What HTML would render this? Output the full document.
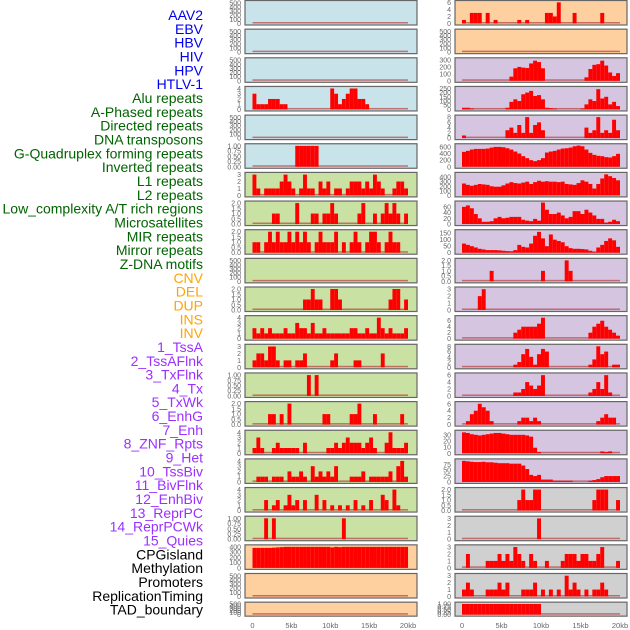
<!DOCTYPE html>
<html><head><meta charset="utf-8">
<style>
html,body{margin:0;padding:0;background:#fff;}
svg{display:block;font-family:"Liberation Sans",sans-serif;}
</style></head>
<body>
<svg id="chart" width="630" height="630" viewBox="0 0 630 630"></svg>
<script>
// ---- row labels ----
const labels = ["AAV2","EBV","HBV","HIV","HPV","HTLV-1","Alu repeats","A-Phased repeats","Directed repeats","DNA transposons","G-Quadruplex forming repeats","Inverted repeats","L1 repeats","L2 repeats","Low_complexity A/T rich regions","Microsatellites","MIR repeats","Mirror repeats","Z-DNA motifs","CNV","DEL","DUP","INS","INV","1_TssA","2_TssAFlnk","3_TxFlnk","4_Tx","5_TxWk","6_EnhG","7_Enh","8_ZNF_Rpts","9_Het","10_TssBiv","11_BivFlnk","12_EnhBiv","13_ReprPC","14_ReprPCWk","15_Quies","CPGisland","Methylation","Promoters","ReplicationTiming","TAD_boundary"];
const labelGroups = [0,0,0,0,0,0,1,1,1,1,1,1,1,1,1,1,1,1,1,2,2,2,2,2,3,3,3,3,3,3,3,3,3,3,3,3,3,3,3,4,4,4,4,4];
const groupColors = ["#0000ee","#006400","#ffa500","#9b30ff","#000000"];
const xTickVals = [0,5,10,15,20];
const xTickLabels = ["0","5kb","10kb","15kb","20kb"];

// ---- data: 40 bins of 0.5kb from 0 to 20kb ----
const Z = () => new Array(40).fill(0);
function mk(pairs){const a=Z();for(const k in pairs)a[k]=pairs[k];return a;}
// column 1
const c1_0 = Z(), c1_1 = Z(), c1_2 = Z();
const c1_3 = [3,1,1,1,2,2,2,1,1,0,0,0,0,0,0,0,0,0,0,0,4,3,1,2,3,4,4,2,2,1,0,0,0,0,0,0,0,0,0,0];
const c1_4 = Z();
const c1_5 = mk({11:1,12:1,13:1,14:1,15:1,16:1});
const c1_6 = [3,1,0,1,1,1,1,2,3,2,1,0,1,3,1,1,0,2,1,2,0,1,1,0,1,2,2,2,1,2,1,3,2,1,0,0,1,2,2,1];
const c1_7 = [0,0,0,0,0,1,1,0,0,0,0,2,0,0,0,1,1,0,1,1,2,1,0,0,0,0,0,1,2,0,0,1,0,1,2,1,2,1,0,1];
const c1_8 = [1,1,0,1,2,1,2,1,1,2,1,2,1,2,1,0,1,2,1,1,1,2,0,1,0,1,2,1,0,1,2,2,1,0,1,2,1,1,0,0];
const c1_9 = Z();
const c1_10 = mk({13:1,14:1,15:2,16:1,17:1,20:2,21:2,22:1,35:1,36:2,37:2,39:1});
const c1_11 = [2,1,2,1,2,1,1,1,2,1,1,3,2,2,1,3,1,1,2,1,1,1,1,1,1,2,2,1,1,2,1,1,4,2,1,2,1,1,1,2];
const c1_12 = mk({0:1,1:2,2:2,3:1,4:3,5:3,6:1,8:1,9:1,11:1,12:1,13:2,20:1,21:2,26:1,27:1,33:2});
const c1_13 = mk({14:1,16:1});
const c1_14 = mk({4:1,5:1,7:1,9:2,18:1,19:1,25:1,26:1,27:2,31:1,38:1});
const c1_15 = [1,3,1,0,0,1,2,1,1,1,1,1,0,2,0,0,0,0,0,1,1,2,1,2,3,2,2,2,1,2,3,1,0,0,2,4,1,1,1,2];
const c1_16 = [0,1,1,1,0,1,1,1,0,2,1,1,2,1,0,3,1,2,1,2,1,3,0,0,0,1,1,1,2,0,1,1,1,1,1,2,0,3,4,1];
const c1_17 = mk({3:2,5:1,6:2,8:1,9:3,10:1,11:2,13:2,16:3,18:2,20:1,22:1,24:1,26:2,28:1,30:2,33:3,34:2,36:4,37:1});
const c1_18 = mk({3:1,5:1,23:1});
const c1_19 = [380,380,380,380,380,385,390,395,400,400,400,400,400,400,400,400,400,400,400,400,390,400,395,400,400,400,400,400,400,400,400,400,400,400,400,400,400,400,400,400];
const c1_20 = Z(), c1_21 = Z();
// column 2
const c2_0 = mk({0:1,2:3,3:3,4:3,6:3,8:1,14:1,16:1,21:3,22:3,23:2,24:6,28:3,35:3});
const c2_1 = Z();
const c2_2 = mk({12:60,13:180,14:200,15:190,16:185,17:250,18:290,19:270,20:180,31:50,32:170,33:230,34:240,35:290,36:220,37:120,38:70,39:110});
const c2_3 = mk({0:20,1:20,2:10,11:20,12:90,13:120,14:100,15:180,16:200,17:220,18:160,19:170,20:120,21:20,22:15,23:10,30:10,31:60,32:120,33:100,34:240,35:130,36:150,37:60,38:90,39:40});
const c2_4 = mk({0:1,11:3,12:4,13:2,14:5,15:2,16:8,17:2,18:5,19:6,20:3,31:4,32:2,33:3,34:8,35:2,36:3,37:2,38:7,39:3});
const c2_5 = [450,480,520,540,540,540,550,580,600,600,590,560,520,460,400,320,260,200,170,200,260,430,460,480,520,550,560,580,620,640,620,520,420,360,330,320,290,280,320,390];
const c2_6 = [260,230,210,230,250,240,230,200,190,190,220,260,290,270,260,280,300,250,290,320,300,310,300,300,290,300,250,240,230,270,330,300,250,150,250,370,460,420,380,330];
const c2_7 = [60,65,55,35,20,8,8,10,20,25,20,22,25,25,25,15,12,10,18,12,75,50,35,35,40,30,20,25,45,45,35,50,40,30,18,18,5,8,15,10];
const c2_8 = [70,60,50,40,30,25,20,20,20,18,15,12,10,20,60,45,40,70,130,160,110,50,140,100,90,80,50,35,30,30,28,25,15,5,40,60,90,110,95,45];
const c2_9 = mk({7:1,20:1,26:2,27:1});
const c2_10 = mk({4:2,5:3});
const c2_11 = mk({13:2,14:3,15:4,16:4,17:4,18:4,19:5,20:7,32:2,33:4,34:5,35:6,36:4,37:3,38:2,39:1});
const c2_12 = mk({13:1,14:2,15:5,16:7,17:4,18:1,19:5,20:7,21:6,32:1,33:3,34:8,35:5,36:6,38:1,39:1});
const c2_13 = mk({13:1,14:1,15:2,16:4,17:3,18:2,19:3,20:6,32:1,33:2,34:4,35:2,36:6,37:1});
const c2_14 = mk({1:1,2:3,3:4,4:6,5:5,6:4,7:1,14:1,15:2,16:2,17:1,18:2,19:1,34:1,35:2,36:3,37:2,38:2});
const c2_15 = mk({0:34,1:33,2:31,3:30,4:29,5:30,6:31,7:32,8:33,9:33,10:32,11:31,12:30,13:30,14:30,15:30,16:29,17:27,18:9,19:2,35:3,36:2,37:3});
const c2_16 = mk({0:90,1:88,2:86,3:85,4:85,5:86,6:84,7:84,8:82,9:80,10:80,11:80,12:78,13:78,14:78,15:70,16:55,17:30,18:25,19:30,20:10,21:10,22:10,23:5,24:5,25:5,26:5,27:5,32:5,33:8,34:12,35:20,36:25,37:25,38:25,39:25});
const c2_17 = mk({14:1,15:2,16:1,17:1,18:2,19:2,33:1,34:2,35:2,36:2,39:1});
const c2_18 = mk({19:3});
const c2_19 = mk({1:2,6:1,7:1,8:1,9:2,10:1,11:2,12:1,13:3,14:2,15:1,17:2,18:1,21:1,25:1,26:2,27:2,28:2,29:1,30:2,31:2,32:1,33:1,34:2,35:3,39:1});
const c2_20 = mk({0:1,1:2,2:1,6:1,7:1,8:1,9:2,10:1,11:2,15:1,16:1,17:1,18:2,20:1,22:1,24:1,26:3,27:1,28:2,29:1,31:1,33:1,34:1,35:2,36:1});
const c2_21 = mk({0:1,1:1,2:1,3:1,4:1,5:1,6:1,7:1,8:1,9:1,10:1,11:1,12:1,13:1,14:1,15:1,16:1,17:1,18:1,19:1});

// tick sets
const T500=[0,100,200,300,400,500], T4=[0,1,2,3,4], T3=[0,1,2,3], T2=[0,0.5,1,1.5,2], T1=[0,0.25,0.5,0.75,1];
const col1Series=[c1_0,c1_1,c1_2,c1_3,c1_4,c1_5,c1_6,c1_7,c1_8,c1_9,c1_10,c1_11,c1_12,c1_13,c1_14,c1_15,c1_16,c1_17,c1_18,c1_19,c1_20,c1_21];
const col1Ticks=[T500,T500,T500,T4,T500,T1,T3,T2,T2,T500,T2,T4,T3,T1,T2,T4,T4,T4,T1,[0,100,200,300,400],T500,T500];
const col1Max=[520,520,520,4.1,520,1.03,3.1,2.05,2.05,520,2.05,4.1,3.1,1.03,2.05,4.1,4.1,4.1,1.03,410,520,520];
const col2Series=[c2_0,c2_1,c2_2,c2_3,c2_4,c2_5,c2_6,c2_7,c2_8,c2_9,c2_10,c2_11,c2_12,c2_13,c2_14,c2_15,c2_16,c2_17,c2_18,c2_19,c2_20,c2_21];
const col2Ticks=[[0,2,4,6],T500,[0,100,200,300],[0,50,100,150,200,250],[0,2,4,6,8],[0,200,400,600],[0,100,200,300,400],[0,20,40,60],[0,50,100,150],T2,T3,[0,2,4,6],[0,2,4,6,8],[0,2,4,6],[0,2,4,6],[0,10,20,30],[0,25,50,75],T2,T3,T3,T3,T1];
const col2Max=[6.1,520,310,255,8.2,650,470,75,165,2.05,3.1,7.2,8.2,6.2,6.2,35,92,2.05,3.1,3.1,3.1,1.03];
const col1Bg=["#c8e3ea","#c8e3ea","#c8e3ea","#c8e3ea","#c8e3ea","#c8e3ea","#c9e1a3","#c9e1a3","#c9e1a3","#c9e1a3","#c9e1a3","#c9e1a3","#c9e1a3","#c9e1a3","#c9e1a3","#c9e1a3","#c9e1a3","#c9e1a3","#c9e1a3","#fecf9f","#fecf9f","#fecf9f"];
const col2Bg=["#fecf9f","#fecf9f","#d5c5e0","#d5c5e0","#d5c5e0","#d5c5e0","#d5c5e0","#d5c5e0","#d5c5e0","#d5c5e0","#d5c5e0","#d5c5e0","#d5c5e0","#d5c5e0","#d5c5e0","#d5c5e0","#d5c5e0","#d0d0d0","#d0d0d0","#d0d0d0","#d0d0d0","#d0d0d0"];

const NS="http://www.w3.org/2000/svg";
const svg=document.getElementById('chart');
function el(tag,attrs,parent){const e=document.createElementNS(NS,tag);for(const k in attrs)e.setAttribute(k,attrs[k]);(parent||svg).appendChild(e);return e;}

// labels
labels.forEach((t,i)=>{
  const e=el('text',{x:203,y:15+i*13.83+5,'text-anchor':'end','font-size':14,fill:groupColors[labelGroups[i]]});
  
  
  e.textContent=t;
});

const cols=[
 {px0:245,px1:417,x0:252.5,x20:408,tickX:241,series:col1Series,ticks:col1Ticks,max:col1Max,bg:col1Bg,name:'col1'},
 {px0:455,px1:627,x0:462,x20:620,tickX:451,series:col2Series,ticks:col2Ticks,max:col2Max,bg:col2Bg,name:'col2'}
];
cols.forEach(c=>{
  const xs=kb=>c.x0+(c.x20-c.x0)*kb/20;
  c.series.forEach((vals,i)=>{
    const top=i*28.65+0.5;
    const h=(i===21)?14:24.5;
    const g=el('g',{});
    
    
    const r=el('rect',{x:c.px0,y:top,width:c.px1-c.px0,height:h,fill:c.bg[i],stroke:'#666','stroke-width':1.2},g);
    
    
    const y0=top+h-1.5, y1=top+1.5;
    const ys=v=>y0-(y0-y1)*v/c.max[i];
    // baseline
    el('rect',{x:xs(0),y:y0-1.5,width:xs(20)-xs(0),height:1.5,fill:'#b84040',opacity:0.7},g);
    vals.forEach((v,b)=>{
      if(v<=0)return;
      const yy=Math.max(top+0.5,ys(v));
      const bar=el('rect',{x:xs(b*0.5),y:yy,width:xs(b*0.5+0.5)-xs(b*0.5),height:y0-yy,fill:'#ff0000'},g);
      
      
    });
    c.ticks[i].forEach(t=>{
      const tx=el('text',{x:c.tickX,y:ys(t)+2.5,'text-anchor':'end','font-size':7,fill:'#666'},g);
      
      
      tx.textContent=(c.ticks[i]===T2?t.toFixed(1):(c.ticks[i]===T1?t.toFixed(2):String(t)));
    });
  });
  xTickVals.forEach((v,k)=>{
    const tx=el('text',{x:xs(v),y:628,'text-anchor':'middle','font-size':7.5,fill:'#666'});
    
    
    tx.textContent=xTickLabels[k];
  });
});
</script>
</body></html>
